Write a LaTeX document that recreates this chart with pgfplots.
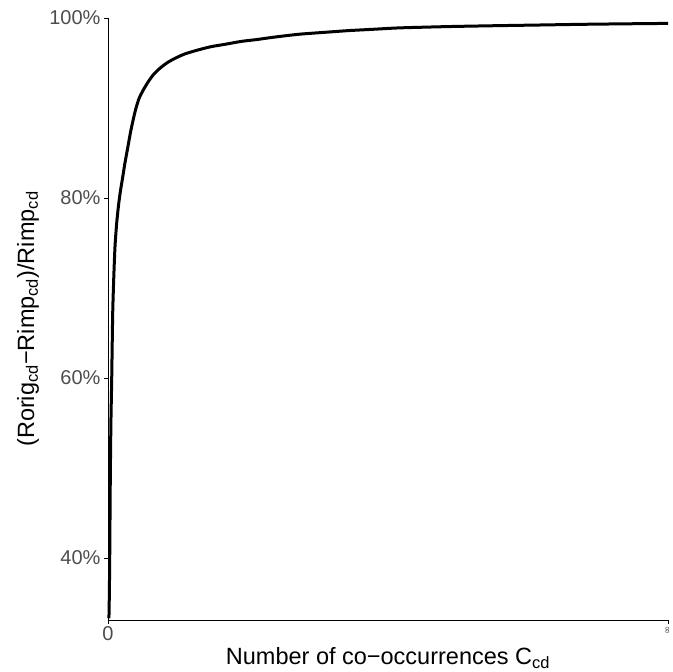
\documentclass[border=0pt]{standalone}
\usepackage{pgfplots}
\pgfplotsset{compat=1.18}
\usepackage{fontspec}
\setmainfont{Liberation Sans}
\newfontfamily\symfont{DejaVu Sans}
\definecolor{ticklab}{HTML}{4D4D4D}
\begin{document}
\begin{tikzpicture}
\begin{axis}[
  scale only axis,
  width=560pt, height=602pt,
  xmin=0, xmax=100, ymin=33.1, ymax=100,
  axis lines*=left,
  axis line style={line width=0.8pt, black},
  xtick={0,100},
  xticklabels={0,{\raisebox{-1pt}{\rotatebox{90}{\fontsize{10}{10}\selectfont\symfont ∞}}}},
  ytick={40,60,80,100},
  yticklabel={\pgfmathprintnumber{\tick}\%},
  /pgf/number format/assume math mode=true,
  tick label style={font=\fontsize{20}{20}\selectfont, text=ticklab},
  xticklabel style={yshift=1pt, inner xsep=0pt},
  tick align=outside,
  major tick length=4pt,
  tick style={line width=0.8pt, black},
  xlabel={Number of co\textminus occurrences C\textsubscript{cd}},
  ylabel={(Rorig\textsubscript{cd}\textminus Rimp\textsubscript{cd})/Rimp\textsubscript{cd}},
  label style={font=\fontsize{23.5}{23.5}\selectfont},
  xlabel style={at={(axis description cs:0.5,0)}, anchor=north, yshift=-24pt},
  ylabel style={at={(axis description cs:-0.1428,0.5)}, anchor=center},
  clip=false,
]
\addplot[black, line width=3pt, line join=round, smooth, tension=0.4] coordinates {
(0.15,33.3) (0.2,34.2) (0.3,39.4) (0.41,48.7) (0.52,55) (0.66,59.8) (0.84,67.2)
(1.05,71.5) (1.25,74.6) (1.55,77.2) (1.9,79.3) (2.25,80.9) (2.6,82.2) (3.0,83.8) (3.5,85.5)
(4.05,87.4) (4.68,89.2) (5.1,90.2) (5.57,91.1) (6.3,92.0)
(7.17,92.9) (8.1,93.7) (9.25,94.4) (10.5,95.0) (11.9,95.5) (13.7,96.0) (15.8,96.4)
(18.3,96.8) (21.1,97.1) (23.8,97.4) (26.5,97.6) (30,97.9)
(34.2,98.2) (38.5,98.4) (43,98.6) (47.5,98.75) (52,98.9) (61,99.05) (69.8,99.15) (77,99.22) (85,99.3) (92,99.35) (100,99.4)
};
\end{axis}
\pgfresetboundingbox
\path ([shift={(-108pt,-51pt)}]current axis.south west) rectangle ([shift={(5pt,18pt)}]current axis.north east);
\end{tikzpicture}
\end{document}
